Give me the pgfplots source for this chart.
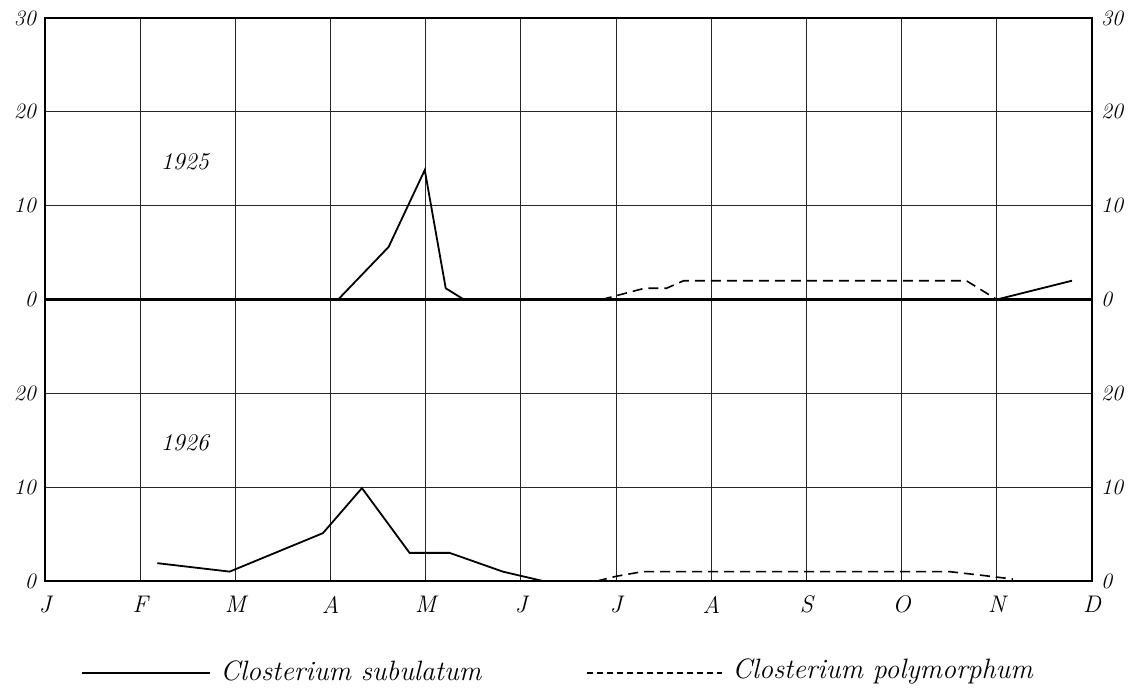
\documentclass[border=0pt]{standalone}
\usepackage{pgfplots}
\pgfplotsset{compat=1.18}
\begin{document}
\begin{tikzpicture}
\path[use as bounding box] (0pt,0pt) rectangle (566pt,343.5pt);
\pgfplotsset{
  panel/.style={
    scale only axis, width=523.5pt, height=140.75pt,
    xmin=0, xmax=11, ymin=0, ymax=30,
    xtick={0,...,11},
    major tick length=0pt,
    axis line style={line width=1pt},
    /pgf/number format/assume math mode=true,
    yticklabel style={font=\fontsize{11}{13}\selectfont\itshape, xshift=-1pt},
    xticklabel style={font=\fontsize{12}{14}\selectfont\itshape, yshift=-4pt},
  },
  gridded/.style={
    grid=major, major grid style={black!85, line width=0.5pt},
  },
  rightlabels/.style={
    axis x line=none, axis y line*=right,
    axis line style={line width=1pt},
    yticklabel style={font=\fontsize{11}{13}\selectfont\itshape, xshift=2pt},
  },
  subul/.style={black, line width=0.9pt},
  polym/.style={black, line width=0.8pt, dash pattern=on 5pt off 3pt},
}
% 1926 panel
\begin{axis}[panel, gridded, at={(22.5pt,53pt)}, anchor=south west,
  ytick={0,10,20},
  xticklabels={J,F,M,A,M,J,J,A,S,O,N,D}]
\addplot[subul] coordinates {(1.18,1.9) (1.94,1.0) (2.92,5.1) (3.33,9.9) (3.83,3) (4.25,3) (4.81,1) (5.23,0)};
\addplot[polym] coordinates {(5.80,0) (6.0,0.5) (6.28,1.0) (9.5,1.0) (9.85,0.6) (10.17,0.2)};
\node[font=\fontsize{12}{14}\selectfont\itshape] at (axis cs:1.47,14.7) {1926};
\end{axis}
\begin{axis}[panel, rightlabels, at={(22.5pt,53pt)}, anchor=south west,
  ytick={0,10,20}]
\end{axis}
% 1925 panel
\begin{axis}[panel, gridded, at={(22.5pt,193.75pt)}, anchor=south west,
  ytick={0,10,20,30}, xticklabels={}]
\addplot[subul] coordinates {(3.08,0) (3.61,5.6) (3.99,13.8) (4.21,1.2) (4.40,0)};
\addplot[subul] coordinates {(10.0,0) (10.79,2)};
\addplot[polym] coordinates {(5.85,0) (6.30,1.2) (6.53,1.2) (6.71,2) (9.68,2) (10.0,0)};
\node[font=\fontsize{12}{14}\selectfont\itshape] at (axis cs:1.47,14.7) {1925};
\end{axis}
\begin{axis}[panel, rightlabels, at={(22.5pt,193.75pt)}, anchor=south west,
  ytick={0,10,20,30}]
\end{axis}
% key
\draw[line width=0.9pt] (41pt,7pt) -- (105pt,7pt);
\node[anchor=west, font=\fontsize{14}{16}\selectfont\itshape, inner sep=0pt] at (110pt,8pt) {Closterium subulatum};
\draw[line width=0.8pt, dash pattern=on 3pt off 2pt] (293.5pt,7pt) -- (361pt,7pt);
\node[anchor=west, font=\fontsize{14}{16}\selectfont\itshape, inner sep=0pt] at (366pt,8pt) {Closterium polymorphum};
\end{tikzpicture}
\end{document}
